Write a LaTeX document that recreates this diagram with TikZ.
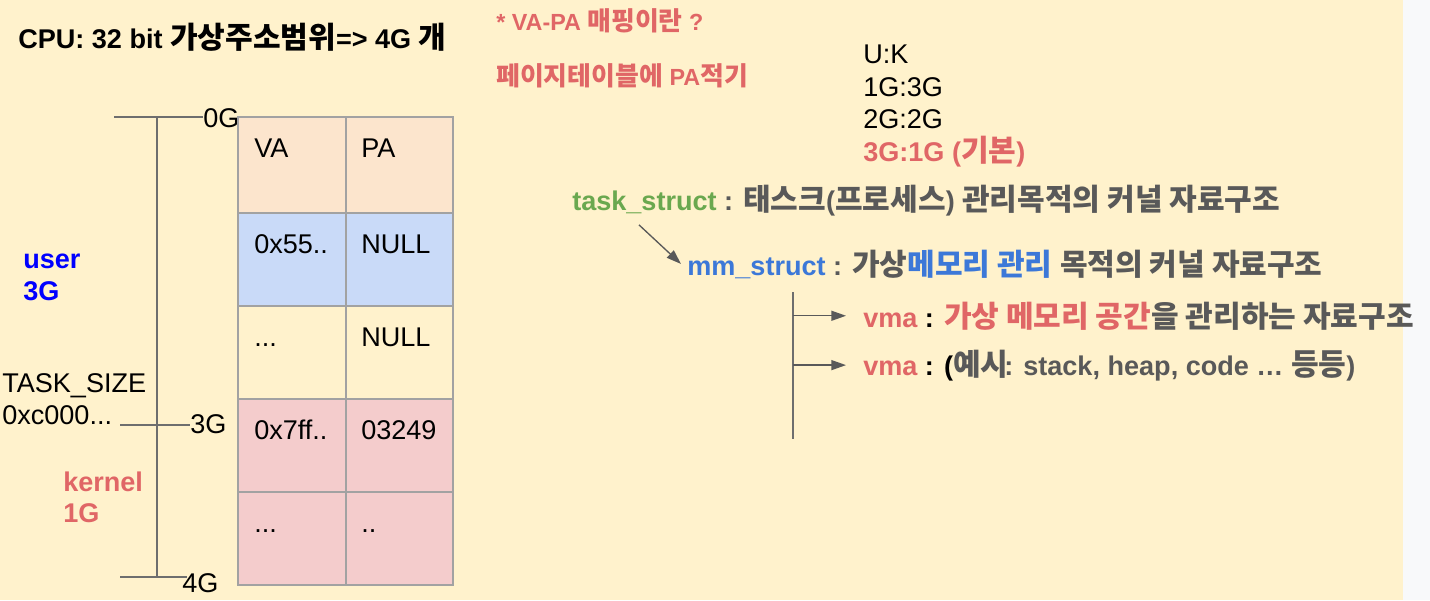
\documentclass[tikz,border=0pt]{standalone}
\usepackage{fontspec}
\setmainfont{Liberation Sans}
\newfontfamily\krfont[Scale=1.11]{Noto Sans CJK KR}
\usetikzlibrary{arrows.meta}
\newcommand{\kr}[1]{{\krfont #1}}
\definecolor{bgyellow}{HTML}{FFF2CC}
\definecolor{sidegray}{HTML}{F8F9FA}
\definecolor{peach}{HTML}{FCE5CD}
\definecolor{lightblue}{HTML}{C9DAF8}
\definecolor{pink}{HTML}{F4CCCC}
\definecolor{cellgray}{HTML}{A2A2A2}
\definecolor{axisgray}{HTML}{6E6E6E}
\definecolor{redtxt}{HTML}{E06666}
\definecolor{greentxt}{HTML}{6AA84F}
\definecolor{bluetxt}{HTML}{3C78D8}
\definecolor{graytxt}{HTML}{595959}
\definecolor{userblue}{HTML}{0000FF}
\tikzset{
	txt/.style={anchor=base west, inner sep=0pt, font=\fontsize{20.3}{24}\selectfont},
	btxt/.style={anchor=base west, inner sep=0pt, font=\fontsize{20.3}{24}\selectfont\bfseries},
	small/.style={anchor=base west, inner sep=0pt, font=\fontsize{17.5}{20}\selectfont\bfseries},
	axis/.style={line width=1pt, color=axisgray},
	cell/.style={line width=1.1pt, draw=cellgray},
	link/.style={line width=1pt, color=graytxt, -{Triangle[length=11pt,width=7.5pt]}}
}

\begin{document}
\begin{tikzpicture}[x=0.75pt, y=-0.75pt]
			%%%%% START %%%%%
			\useasboundingbox (0, 0) rectangle (1430, 600);
			\fill[bgyellow] (0, 0) rectangle (1403, 600);
			\fill[sidegray] (1403, 0) rectangle (1430, 600);
			
			\node[btxt] (title) at (18, 48) {CPU: 32 bit \kr{가상주소범위}=> 4G \kr{개}};
			
			% address range
			\node[txt] (g0) at (203, 127) {0G};
			\node[txt] (g3) at (190, 433) {3G};
			\node[txt] (g4) at (182, 592) {4G};
			\coordinate (t0) at (114, 117);
			\coordinate (t3) at (120, 425);
			\coordinate (t4) at (120, 577);
			\draw[axis] (t0) -- (t0 -| g0.west);
			\draw[axis] (t3) -- (t3 -| g3.west);
			\draw[axis] (t4) -- ([shift={(5,0)}]t4 -| g4.west);
			\draw[axis] (157, 117) -- (157, 576);
			
			\node[btxt, color=userblue] (user) at (23, 268) {user};
			\node[btxt, color=userblue] (user3g) at (23, 300) {3G};
			\node[txt] (tasksize) at (2, 392) {TASK\_SIZE};
			\node[txt] (c000) at (2, 424) {0xc000...};
			\node[btxt, color=redtxt] (kernel) at (63, 491) {kernel};
			\node[btxt, color=redtxt] (kernel1g) at (63, 522) {1G};
			
			% page table
			\fill[peach] (238, 117) rectangle (453, 213);
			\fill[lightblue] (238, 213) rectangle (453, 306);
			\fill[pink] (238, 399) rectangle (453, 585);
			\draw[cell] (238, 117) rectangle (453, 585);
			\draw[cell] (346, 117) -- (346, 585);
			\draw[cell] (238, 213) -- (453, 213);
			\draw[cell] (238, 306) -- (453, 306);
			\draw[cell] (238, 399) -- (453, 399);
			\draw[cell] (238, 492) -- (453, 492);
			
			\node[txt] (va0) at (254, 157) {VA};
			\node[txt] (pa0) at (361, 157) {PA};
			\node[txt] (va1) at (254, 253) {0x55..};
			\node[txt] (pa1) at (361, 253) {NULL};
			\node[txt] (va2) at (254, 346) {...};
			\node[txt] (pa2) at (361, 346) {NULL};
			\node[txt] (va3) at (254, 439) {0x7ff..};
			\node[txt] (pa3) at (361, 439) {03249};
			\node[txt] (va4) at (254, 532) {...};
			\node[txt] (pa4) at (361, 532) {..};
			
			% notes
			\node[small, color=redtxt] (mapq) at (496, 30) {* VA-PA \kr{매핑이란} ?};
			\node[small, color=redtxt] (mapa) at (496, 85) {\kr{페이지테이블에} PA\kr{적기}};
			
			\node[txt] (uk) at (863, 63) {U:K};
			\node[txt] (r13) at (863, 96) {1G:3G};
			\node[txt] (r22) at (863, 128) {2G:2G};
			\node[btxt, color=redtxt] (r31) at (863, 161) {3G:1G (\kr{기본})};
			
			% kernel structs
			\node[btxt] (task) at (572, 210) {\textcolor{greentxt}{task\_struct} \textcolor{graytxt}{: \kr{태스크}(\kr{프로세스}) \kr{관리목적의 커널 자료구조}}};
			\node[btxt] (mm) at (687, 275) {\textcolor{bluetxt}{mm\_struct} \textcolor{graytxt}{: \kr{가상}}\textcolor{bluetxt}{\kr{메모리 관리}} \textcolor{graytxt}{\kr{목적의 커널 자료구조}}};
			\node[btxt] (vma1) at (863, 327) {\textcolor{redtxt}{vma} : \textcolor{redtxt}{\kr{가상 메모리 공간}}\textcolor{graytxt}{\kr{을 관리하는 자료구조}}};
			\node[btxt] (vma2) at (863, 375) {\textcolor{redtxt}{vma} : (\textcolor{graytxt}{\kr{예시}\kern-3pt: stack, heap, code … \kr{등등})}};
			
			\draw[link] ([shift={(67,9)}]task.south west) -- ([shift={(-6,0)}]mm.west);
			\coordinate (br) at (793, 292);
			\draw[axis] (br) -- (793, 439);
			\draw[link] (br |- vma1.west) -- ([shift={(-17,0)}]vma1.west);
			\draw[link] (br |- vma2.west) -- ([shift={(-17,0)}]vma2.west);
			%%%%% END %%%%%
\end{tikzpicture}
\end{document}
